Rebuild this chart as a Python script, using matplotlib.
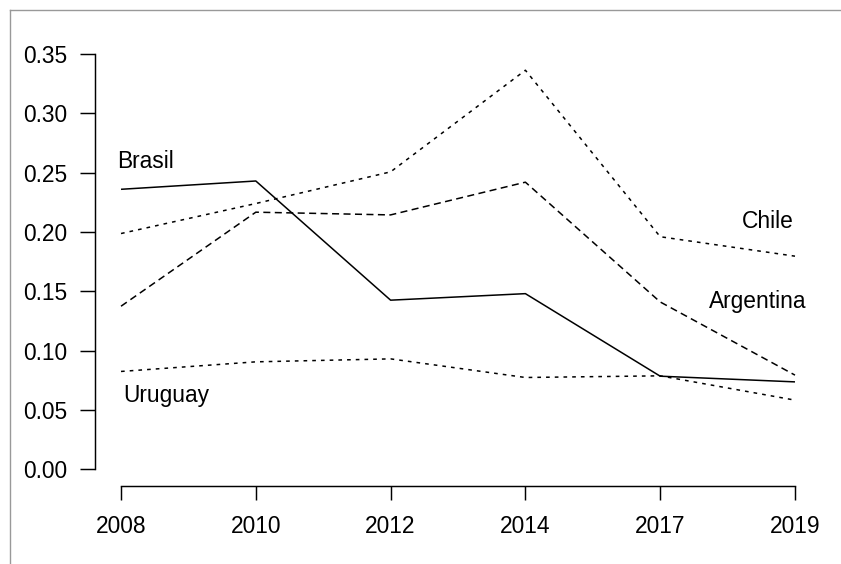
import matplotlib
matplotlib.use("Agg")
import matplotlib.pyplot as plt
from matplotlib.lines import Line2D

years = ["2008", "2010", "2012", "2014", "2017", "2019"]
brasil = [0.236, 0.243, 0.1425, 0.148, 0.0784, 0.0736]
chile = [0.1987, 0.224, 0.2507, 0.3364, 0.196, 0.1796]
argentina = [0.1374, 0.2167, 0.2144, 0.242, 0.141, 0.0793]
uruguay = [0.0824, 0.0905, 0.093, 0.0773, 0.0787, 0.0582]
yticks = [0.00, 0.05, 0.10, 0.15, 0.20, 0.25, 0.30, 0.35]

plt.rcParams['font.family'] = ['Liberation Sans', 'DejaVu Sans']

W, H = 841, 564
fig = plt.figure(figsize=(W / 100, H / 100), dpi=100)

# axes in pixel coords: left 95, right 821, bottom 486, top 37.5
left, right, bottom, top = 95, 821, 486, 37.5
ax = fig.add_axes([left / W, 1 - bottom / H, (right - left) / W, (bottom - top) / H])

x = list(range(len(years)))
lw = 1.1
ax.plot(x, brasil, color='black', lw=lw, solid_capstyle='butt')
ax.plot(x, chile, color='black', lw=lw, linestyle=(0, (2.4, 3.3)), dash_capstyle='butt')
ax.plot(x, argentina, color='black', lw=lw, linestyle=(0, (4.6, 2.9)), dash_capstyle='butt')
ax.plot(x, uruguay, color='black', lw=lw, linestyle=(0, (2.4, 3.3)), dash_capstyle='butt')

ax.set_xlim(-0.193, 5.193)
ax.set_ylim(-0.0142, 0.364)

for s in ['top', 'right']:
    ax.spines[s].set_visible(False)
ax.spines['left'].set_bounds(0, 0.35)
ax.spines['bottom'].set_bounds(0, 5)
for s in ['left', 'bottom']:
    ax.spines[s].set_linewidth(1.05)

fs = 16.4
ax.set_xticks(x)
ax.set_xticklabels(years)
ax.set_yticks(yticks)
ax.set_yticklabels([f"{v:.2f}" for v in yticks])
ax.tick_params(axis='y', length=10.8, width=1.05, pad=9.5, labelsize=fs)
ax.tick_params(axis='x', length=10.2, width=1.05, pad=11, labelsize=fs)

ax.text(0.185, 0.2594, "Brasil", ha='center', va='center', fontsize=fs)
ax.text(4.80, 0.209, "Chile", ha='center', va='center', fontsize=fs)
ax.text(4.72, 0.1417, "Argentina", ha='center', va='center', fontsize=fs)
ax.text(0.334, 0.0617, "Uruguay", ha='center', va='center', fontsize=fs)

# page frame (gray) lines
fig.add_artist(Line2D([10 / W, 1.0], [1 - 9.5 / H, 1 - 9.5 / H], color='#999999', lw=1.0))
fig.add_artist(Line2D([10 / W, 10 / W], [0.0, 1 - 9.5 / H], color='#999999', lw=1.0))

fig.savefig("out.png", dpi=100)
